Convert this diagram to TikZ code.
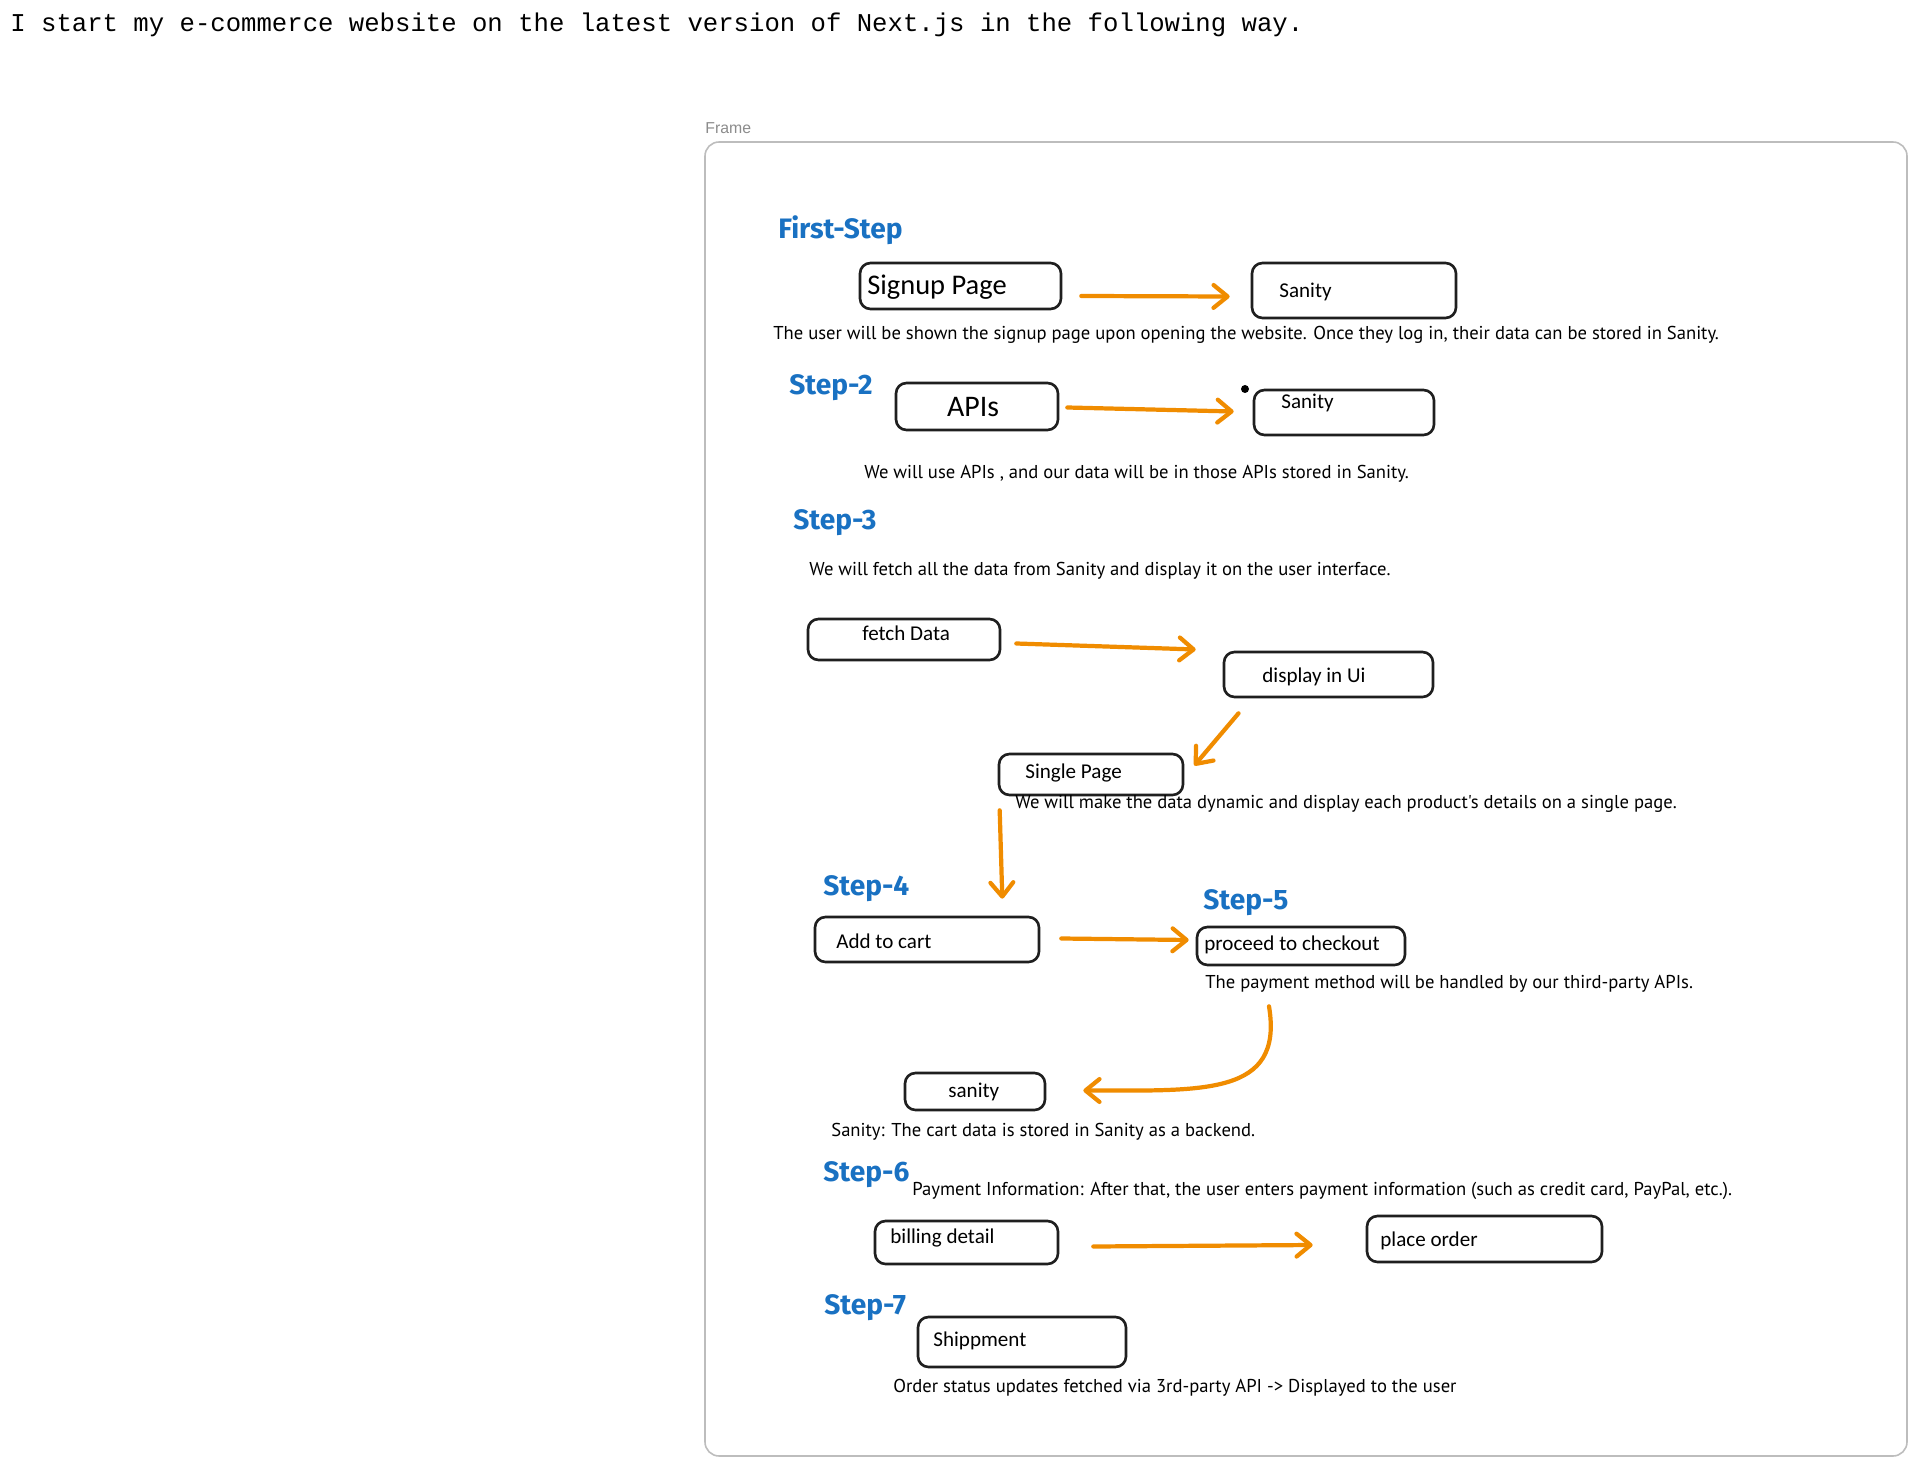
\documentclass[tikz,border=0pt]{standalone}
\usepackage{fontspec}
\usepackage{tikz}
\usetikzlibrary{arrows.meta,calc,fit}

\newfontfamily\titlefont{Liberation Mono}
\newfontfamily\headfont{Fira Sans}
\newfontfamily\cardfont{Carlito}
\newfontfamily\notefont{PT Sans}
\newfontfamily\framefont{Liberation Sans}

\definecolor{stepblue}{HTML}{1971C2}
\definecolor{arroworange}{HTML}{F08C00}
\definecolor{framegray}{HTML}{BDBDBD}

\begin{document}
\begin{tikzpicture}[x=0.02cm,y=-0.02cm,line cap=round,
		card/.style={draw=black!88,line width=1.5pt,rounded corners=6pt,inner sep=0pt},
		cardtext/.style={anchor=west,inner sep=0pt,font=\cardfont\fontsize{12}{14}\selectfont},
		bigtext/.style={cardtext,font=\cardfont\fontsize{16.2}{19}\selectfont},
		steptitle/.style={anchor=west,inner sep=0pt,text=stepblue,font=\headfont\bfseries\fontsize{16}{19}\selectfont},
		note/.style={anchor=west,inner sep=0pt,font=\notefont\fontsize{10.6}{12}\selectfont},
		flow/.style={draw=arroworange,line width=2.4pt,-{Straight Barb[length=8pt,width=13pt,round]}}]
		\fill[white] (0,0) rectangle (1917,1466);
		\useasboundingbox (0,0) rectangle (1917,1466);

		% the heading line
		\node[anchor=west,inner sep=0pt,font=\titlefont\fontsize{14.6}{17}\selectfont] (intro) at (10,25)
			{I start my e-commerce website on the latest version of Next.js in the following way.};

		% draw the frame
		\draw[framegray,line width=0.9pt,rounded corners=8pt] (705,142) rectangle (1907,1456);
		\node[anchor=west,inner sep=0pt,text=black!45,font=\framefont\fontsize{9}{11}\selectfont] (framelabel) at (705,128) {Frame};

		% step headings
		\foreach \n/\x/\y/\t in {
			first/778/230/First-Step,
			two/789/388/Step-2,
			three/793/523/Step-3,
			four/823/889/Step-4,
			five/1203/903/Step-5,
			six/823/1175/Step-6,
			seven/824/1308/Step-7}
		\node[steptitle] (\n) at (\x,\y) {\t};

		% draw the boxes
		\foreach \n/\a/\b/\c/\d in {
			signup/860/263/1061/309,
			sanityA/1252/263/1456/318,
			apis/896/383/1058/430,
			sanityB/1254/390/1434/435,
			fetch/808/619/1000/660,
			display/1224/652/1433/697,
			single/999/754/1183/795,
			cart/815/917/1039/962,
			checkout/1197/927/1405/965,
			sanityC/905/1073/1045/1110,
			billing/875/1221/1058/1264,
			order/1367/1216/1602/1262,
			ship/918/1317/1126/1367}
		\node[card,fit={(\a,\b) (\c,\d)}] (\n) {};

		% texts in the boxes
		\node[bigtext] (signup-txt) at (867,287) {Signup Page};
		\node[bigtext,anchor=center,font=\cardfont\fontsize{17}{20}\selectfont] (apis-txt) at (973,407) {APIs};
		\foreach \n/\x/\y/\t in {
			sanityA/1279/292/Sanity,
			sanityB/1281/403/Sanity,
			fetch/862/633/fetch Data,
			display/1262/677/display in Ui,
			single/1025/773/Single Page,
			cart/836/941/Add to cart,
			checkout/1204/945/proceed to checkout,
			sanityC/948/1092/sanity,
			billing/890/1238/billing detail,
			order/1380/1241/place order,
			ship/933/1341/Shippment}
		\node[cardtext] (\n-txt) at (\x,\y) {\t};

		% the little dot next to the second box
		\fill[black] (1245,389) circle (4);

		% notes under the boxes
		\node[note] (noteA) at (773,335) {The user will be shown the signup page upon opening the website. Once they log in, their data can be stored in Sanity.};
		\node[note] (noteB) at (864,474) {We will use APIs , and our data will be in those APIs stored in Sanity.};
		\node[note] (noteC) at (809,571) {We will fetch all the data from Sanity and display it on the user interface.};
		\node[note] (noteD) at (1015,804) {We will make the data dynamic and display each product's details on a single page.};
		\node[note] (noteE) at (1205,984) {The payment method will be handled by our third-party APIs.};
		\node[note] (noteF) at (831,1132) {Sanity: The cart data is stored in Sanity as a backend.};
		\node[note] (noteG) at (912,1191) {Payment Information: After that, the user enters payment information (such as credit card, PayPal, etc.).};
		\node[note] (noteH) at (893,1388) {Order status updates fetched via 3rd-party API -> Displayed to the user};

		% draw the arrows
		\draw[flow] ($(signup.east)+(19,10)$) -- ($(sanityA.west)+(-21,6)$);
		\draw[flow] ($(apis.east)+(8,1)$) -- ($(sanityB.west)+(-19,-1)$);
		\draw[flow] ($(fetch.east)+(15,4)$) -- ($(display.west)+(-27,-25)$);
		\draw[flow] ($(display.south)+(-90,15)$) -- ($(single.east)+(10,-9)$);
		\draw[flow] ($(single.south west)+(2,14)$) -- ($(cart.north east)+(-38,-17)$);
		\draw[flow] ($(cart.east)+(21,-1)$) -- ($(checkout.west)+(-7,-6)$);
		\draw[flow] ($(checkout.south)+(-32,40)$) .. controls +(15,90) and +(120,0) .. ($(sanityC.east)+(37,-1)$);
		\draw[flow] ($(billing.east)+(34,4)$) -- ($(order.west)+(-53,6)$);
	\end{tikzpicture}
\end{document}
